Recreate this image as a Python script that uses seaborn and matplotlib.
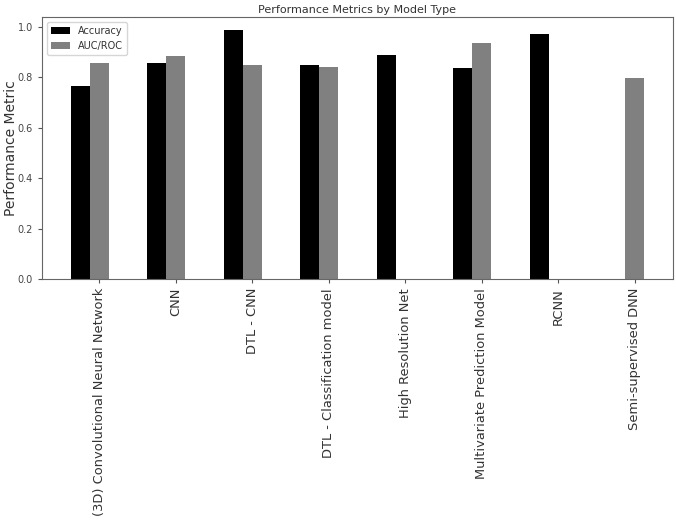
import numpy as np
import pandas as pd
import matplotlib
matplotlib.use("Agg")
import matplotlib.pyplot as plt
import seaborn as sns

# Data
models = [
    "(3D) Convolutional Neural Network",
    "CNN",
    "DTL - CNN",
    "DTL - Classification model",
    "High Resolution Net",
    "Multivariate Prediction Model",
    "RCNN",
    "Semi-supervised DNN",
]
accuracy = [0.765, 0.857, 0.987, 0.847, 0.890, 0.837, 0.970, np.nan]
auc_roc = [0.857, 0.886, 0.848, 0.840, np.nan, 0.936, np.nan, 0.798]
metrics = ["Accuracy", "AUC/ROC"]

df = pd.DataFrame({"Model": models, "Accuracy": accuracy, "AUC/ROC": auc_roc})
df_long = df.melt(id_vars="Model", var_name="Metric", value_name="Value")

sns.set_style("white")
plt.rcParams["font.family"] = ["DejaVu Sans"]

fig = plt.figure(figsize=(6.76, 5.22), dpi=100)
ax = fig.add_axes([0.062, 0.4655, 0.9336, 0.5015])

sns.barplot(
    data=df_long,
    x="Model",
    y="Value",
    hue="Metric",
    hue_order=metrics,
    order=models,
    palette=["black", "gray"],
    width=0.5,
    linewidth=0,
    ax=ax,
)

# ticks sit under the second bar of each group
ax.set_xticks(np.arange(len(models)) + 0.125)
ax.set_xticklabels(models, rotation=90, fontsize=9.4, color="#333333")
ax.set_xlim(-0.625, 7.625)
ax.set_ylim(0, 1.038)
ax.set_yticks([0.0, 0.2, 0.4, 0.6, 0.8, 1.0])
ax.set_yticklabels(["0.0", "0.2", "0.4", "0.6", "0.8", "1.0"], fontsize=7, color="#444444")
ax.tick_params(axis="both", length=3, color="#555555", bottom=True, left=True)

for s in ax.spines.values():
    s.set_color("#666666")
    s.set_linewidth(0.8)

ax.set_xlabel("")
ax.set_ylabel("Performance Metric", fontsize=10, color="#333333")
ax.yaxis.set_label_coords(-0.038, 0.5)
ax.set_title("Performance Metrics by Model Type", fontsize=8, color="#333333", pad=3)

leg = ax.legend(loc="upper left", fontsize=7, frameon=True)
for t in leg.get_texts():
    t.set_color("#333333")

fig.savefig("out.png", dpi=100)
